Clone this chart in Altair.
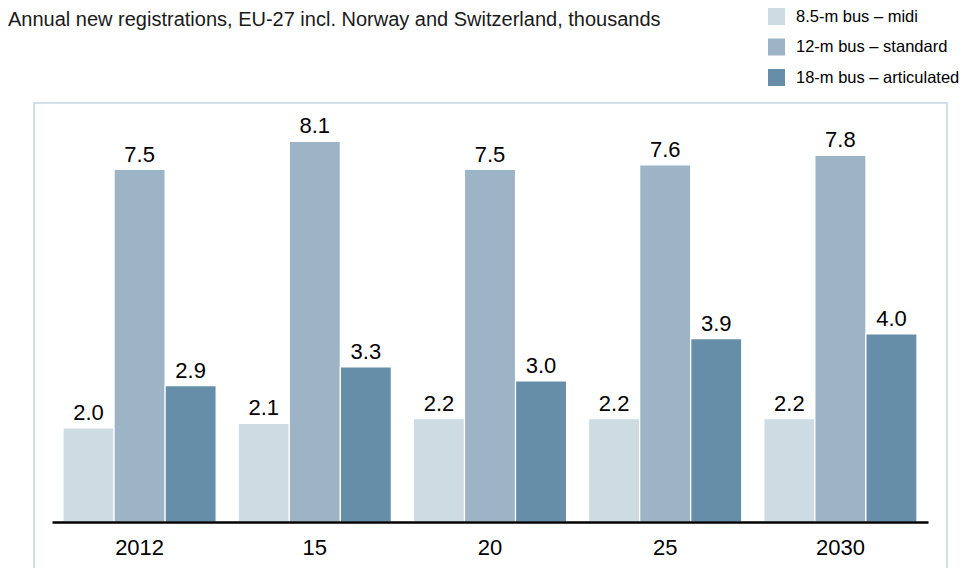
import altair as alt
import pandas as pd

years = ["2012", "15", "20", "25", "2030"]
series = ["8.5-m bus – midi", "12-m bus – standard", "18-m bus – articulated"]
midi = [2.0, 2.1, 2.2, 2.2, 2.2]
standard = [7.5, 8.1, 7.5, 7.6, 7.8]
articulated = [2.9, 3.3, 3.0, 3.9, 4.0]
colors = ["#cddbe3", "#9db3c6", "#668ea8"]
title_text = "Annual new registrations, EU-27 incl. Norway and Switzerland, thousands"

rows = []
for s, vals in zip(series, [midi, standard, articulated]):
    for y, v in zip(years, vals):
        rows.append({"year": y, "series": s, "value": v})
df = pd.DataFrame(rows)

W, H = 876, 423
FONT = "Liberation Sans"

x = alt.X("year:N", sort=years, title=None,
          scale=alt.Scale(paddingInner=0.126, paddingOuter=0.063),
          axis=alt.Axis(labelAngle=0, ticks=False, domainColor="#000000", domainWidth=2.5,
                        labelFontSize=22, labelColor="#000000", labelPadding=15,
                        labelFont=FONT, zindex=1))
xo = alt.XOffset("series:N", sort=series, scale=alt.Scale(paddingInner=0, paddingOuter=0))
y = alt.Y("value:Q", scale=alt.Scale(domain=[0, 9]), axis=None)
color = alt.Color("series:N", sort=series,
                  scale=alt.Scale(domain=series, range=colors),
                  legend=alt.Legend(orient="none", legendX=716, legendY=-91, title=None,
                                    symbolType="square", symbolSize=289, symbolStrokeWidth=0,
                                    labelFontSize=16.5, labelFont=FONT, labelColor="#000000",
                                    labelOffset=11, rowPadding=13.5, symbolOpacity=1,
                                    labelLimit=400))

base = alt.Chart(df)
bars = base.mark_bar(stroke="white", strokeWidth=1.2).encode(x=x, xOffset=xo, y=y, color=color)
labels = base.mark_text(baseline="alphabetic", dy=-8, fontSize=22, font=FONT, color="#000000").encode(
    x=x, xOffset=xo, y=y, text=alt.Text("value:Q", format=".1f"))

frame = alt.Chart(pd.DataFrame({"a": [1]})).mark_rect(
    fill=None, stroke="#d3e0e9", strokeWidth=2).encode(
    x=alt.value(-18), x2=alt.value(895), y=alt.value(4), y2=alt.value(480))

title = alt.Chart(pd.DataFrame({"t": [title_text]})).mark_text(
    align="left", baseline="alphabetic", fontSize=20, font=FONT, color="#1a1a1a").encode(
    x=alt.value(-44), y=alt.value(-73), text="t:N")

chart = alt.layer(frame, bars, labels, title).properties(
    width=W, height=H,
    autosize=alt.AutoSizeParams(type="none"),
    padding={"left": 44, "top": 91, "right": 32, "bottom": 46},
).configure_view(stroke=None)

chart.save("out.html", embed_options={"renderer": "svg", "actions": False})
